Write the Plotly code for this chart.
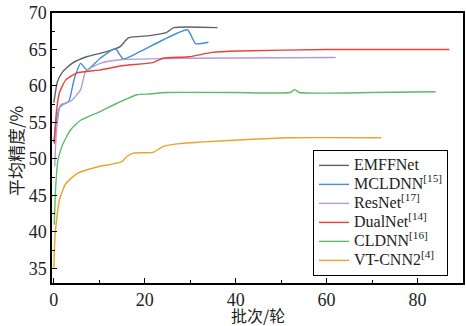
import plotly.graph_objects as go

# EMFFNet
emff_x = [0, 0.8, 1.9, 4, 7.2, 11.6, 14.6, 16.4, 21.1, 24.7, 26.4, 36]
emff_y = [57.7, 60.6, 61.9, 63.1, 64.0, 64.7, 65.4, 66.6, 66.9, 67.3, 68.0, 68.0]
# MCLDNN
mcl_x = [0, 0.5, 1.2, 1.9, 3.3, 4.5, 5.9, 7.3, 10.2, 13.5, 15.3, 18.9, 24, 29.4, 31.2, 34]
mcl_y = [52.3, 55.0, 57.0, 57.4, 57.9, 61.0, 63.1, 62.2, 63.8, 65.1, 63.7, 64.7, 66.3, 67.7, 65.8, 66.0]
# ResNet
res_x = [0.2, 0.6, 1.5, 3.7, 5.9, 7, 10.2, 14.6, 30, 62]
res_y = [49.0, 54.0, 57.4, 57.9, 59.5, 62.0, 63.1, 63.6, 63.8, 63.9]
# DualNet
dual_x = [0.1, 0.5, 1.2, 2.6, 5.1, 10.2, 15.3, 21.8, 24, 29.8, 34.8, 40.7, 60, 87]
dual_y = [52.1, 56.0, 59.0, 60.8, 61.8, 62.2, 62.8, 63.2, 63.8, 64.0, 64.6, 64.8, 65.0, 65.0]
# CLDNN
cl_x = [0.1, 0.4, 0.9, 1.9, 3.7, 5.9, 10.2, 13.8, 18.3, 21.1, 24.7, 40, 52, 53, 54, 70, 84]
cl_y = [41.0, 46.0, 49.8, 51.9, 54.0, 55.3, 56.5, 57.6, 58.8, 58.9, 59.1, 59.1, 59.1, 59.5, 59.1, 59.1, 59.2]
# VT-CNN2
vt_x = [0, 0.3, 1.2, 2.6, 5.1, 9.5, 14.9, 16, 17.5, 21.8, 24, 27.6, 32, 40.7, 51.5, 72]
vt_y = [34.9, 39.8, 44.3, 46.6, 48.0, 48.9, 49.6, 50.3, 50.8, 50.9, 51.7, 52.1, 52.3, 52.6, 52.9, 52.9]

names = ["EMFFNet", "MCLDNN<sup>[15]</sup>", "ResNet<sup>[17]</sup>",
         "DualNet<sup>[14]</sup>", "CLDNN<sup>[16]</sup>", "VT-CNN2<sup>[4]</sup>"]
colors = ["#5f6368", "#3f8fd6", "#b39ad6", "#e8413a", "#5bbd67", "#e8a52a"]
xs = [emff_x, mcl_x, res_x, dual_x, cl_x, vt_x]
ys = [emff_y, mcl_y, res_y, dual_y, cl_y, vt_y]

fig = go.Figure()
for n, c, x, y in zip(names, colors, xs, ys):
    fig.add_trace(go.Scatter(x=x, y=y, mode="lines",
                             name='<span style="font-size:16px">' + n + '</span>',
                             line=dict(color=c, width=1.4, shape="spline", smoothing=0.5)))

serif = '"Times New Roman", "Liberation Serif", "Noto Sans CJK SC", serif'
cjk = '"Noto Sans CJK SC", "Liberation Serif", serif'
axis_common = dict(showline=True, linecolor="black", linewidth=1.5, mirror=True,
                   ticks="inside", ticklen=5, tickwidth=1.2, tickcolor="black",
                   showgrid=False, zeroline=False,
                   tickfont=dict(family=serif, size=18, color="#222"))
fig.update_layout(
    width=466, height=326,
    margin=dict(l=52, r=1, t=13, b=43),
    plot_bgcolor="white", paper_bgcolor="white",
    showlegend=True,
    legend=dict(x=0.635, y=0.493, xanchor="left", yanchor="top",
                bordercolor="black", borderwidth=1, bgcolor="white",
                font=dict(family=serif, size=12, color="#222"),
                tracegroupgap=0, itemwidth=30),
    xaxis=dict(range=[-0.4, 90], tickvals=[0, 20, 40, 60, 80],
               minor=dict(tickvals=[10, 30, 50, 70], ticks="inside", ticklen=3, tickcolor="black"),
               **axis_common),
    yaxis=dict(range=[33, 70], tickvals=[35, 40, 45, 50, 55, 60, 65, 70],
               minor=dict(dtick=2.5, ticks="inside", ticklen=3, tickcolor="black"),
               **axis_common),
    annotations=[
        dict(text="批次/轮", xref="paper", yref="paper", x=0.502, y=-0.12,
             xanchor="center", yanchor="middle", showarrow=False,
             font=dict(family=cjk, size=16, color="#222")),
        dict(text="平均精度/%", xref="paper", yref="paper", x=-0.089, y=0.49,
             xanchor="center", yanchor="middle", showarrow=False, textangle=-90,
             font=dict(family=cjk, size=17, color="#222")),
    ],
)
fig.write_html("out.html", config={"displayModeBar": False},
               post_script="document.body.style.margin='0';document.body.style.overflow='hidden';")
